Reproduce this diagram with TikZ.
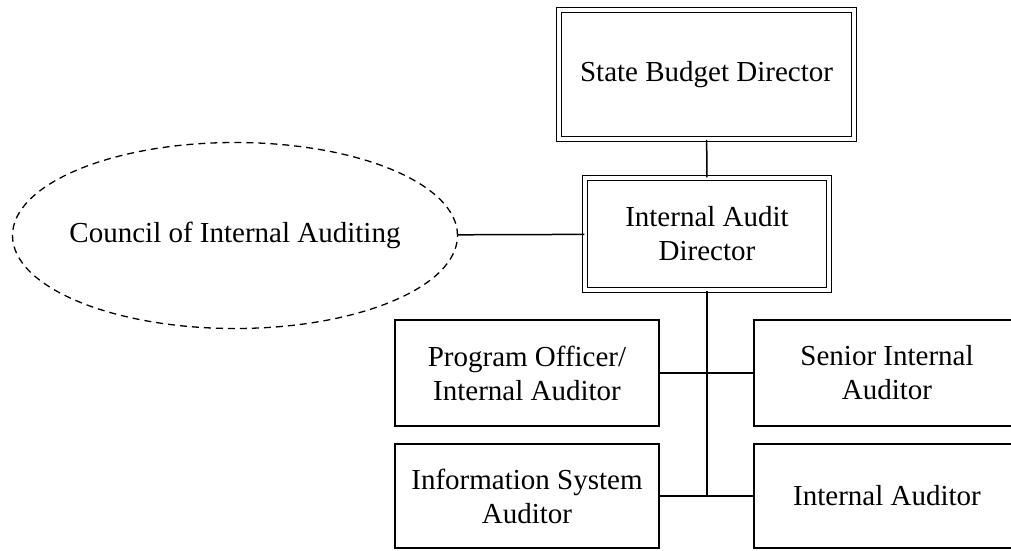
\documentclass[tikz,border=0pt]{standalone}
\usepackage{fontspec}
\setmainfont{Liberation Serif}
\usetikzlibrary{shapes.geometric}
\begin{document}
\begin{tikzpicture}[x=1pt,y=-1pt,
  every node/.style={font=\fontsize{29}{34}\selectfont, align=center, inner sep=0pt},
  headbox/.style={draw, line width=1.5pt, double, double distance=3.5pt},
  staffbox/.style={draw, line width=1.5pt, minimum width=266pt},
  council/.style={draw, ellipse, dashed, dash pattern=on 7pt off 5pt, line width=1.3pt},
  link/.style={line width=1.5pt}]
\useasboundingbox (0,0) rectangle (1011,550);
\node [headbox, minimum width=295pt, minimum height=129pt] (budget) at (706.5,74.5) {State Budget Director};
\node [headbox, minimum width=244pt, minimum height=112pt] (auditdir) at (707,234) {Internal Audit\\Director};
\node [council, minimum width=445pt, minimum height=186pt] (council) at (235,235.5) {\makebox[0pt]{Council of Internal Auditing}};
\node [staffbox, minimum width=264pt, minimum height=106pt] (progoff) at (527,373) {Program Officer/\\Internal Auditor};
\node [staffbox, minimum width=264pt, minimum height=104pt] (infosys) at (527,496) {Information System\\Auditor};
\node [staffbox, minimum height=106pt] (senior) at (887,373) {Senior Internal\\Auditor};
\node [staffbox, minimum height=104pt] (auditor) at (887,496) {Internal Auditor};
\coordinate (trunk) at (auditdir.south |- infosys.east);
\draw [link] (budget) -- (auditdir);
\draw [link] (council) -- (auditdir);
\draw [link] (auditdir.south) -- (trunk);
\draw [link] (progoff.east) -- (senior.west);
\draw [link] (infosys.east) -- (auditor.west);
\end{tikzpicture}
\end{document}
